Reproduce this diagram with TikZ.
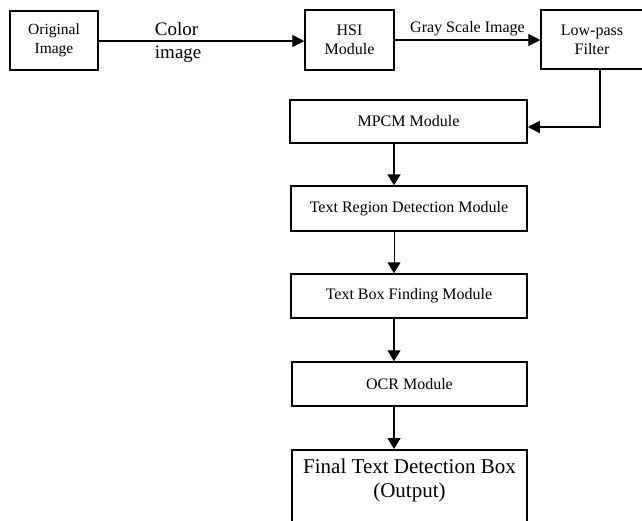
\documentclass[tikz,border=0pt]{standalone}
\usepackage{fontspec}
\setmainfont{Liberation Serif}
\usetikzlibrary{arrows.meta}
\begin{document}
\begin{tikzpicture}[x=1pt,y=-1pt,
  box/.style={draw,line width=1.5pt,inner sep=0pt,align=center},
  arr/.style={line width=1.4pt,-{Triangle[length=12pt,width=12pt]}},
  varr/.style={line width=1.4pt,-{Triangle[length=11pt,width=13pt]}},
  lbl/.style={font=\fontsize{16}{19}\selectfont}]
\useasboundingbox (0,0) rectangle (642,520);
\node[box,minimum width=88pt,minimum height=59pt,font=\fontsize{15.5}{19}\selectfont] (orig) at (54,40.5) {Original\\Image};
\node[box,minimum width=89pt,minimum height=60pt,lbl] (hsi) at (349.5,40) {HSI\\Module};
\node[box,minimum width=102pt,minimum height=59pt,lbl] (lp) at (592,39.5) {Low-pass\\Filter};
\node[box,minimum width=237pt,minimum height=43pt,lbl] (mpcm) at (408.5,121.5) {MPCM Module};
\node[box,minimum width=236pt,minimum height=45pt,lbl] (trd) at (409,208.5) {Text Region Detection Module};
\node[box,minimum width=236pt,minimum height=44pt,lbl] (tbf) at (409,296) {Text Box Finding Module};
\node[box,minimum width=235pt,minimum height=44pt,lbl] (ocr) at (409.5,384) {OCR Module};
\node[box,minimum width=235pt,minimum height=82pt,anchor=north] (final) at (409.5,449) {};
\node[anchor=north,align=center,inner sep=0pt,font=\fontsize{21}{23.5}\selectfont] (ftxt) at ([yshift=-10pt]final.north) {Final Text Detection Box\\(Output)};
\coordinate (spine) at (394,0);
\coordinate (fbx) at (600,0);
\draw[arr] (orig.east |- 0,41) -- (hsi.west |- 0,41)
  node[pos=0.27,anchor=west,align=left,inner sep=0pt,yshift=-1.5pt,font=\fontsize{19}{23}\selectfont] (ci) {Color\\image};
\draw[arr] (hsi.east) -- (lp.west |- hsi.east)
  node[midway,above=3pt,inner sep=0pt,lbl] (gsi) {Gray Scale Image};
\draw[arr] (lp.south -| fbx) |- ([yshift=-5.5pt]mpcm.east);
\draw[varr,line width=2pt] (mpcm.south -| spine) -- (trd.north -| spine);
\draw[varr,line width=1pt] (trd.south -| spine) -- (tbf.north -| spine);
\draw[varr] (tbf.south -| spine) -- (ocr.north -| spine);
\draw[varr] (ocr.south -| spine) -- (final.north -| spine);
\end{tikzpicture}
\end{document}
